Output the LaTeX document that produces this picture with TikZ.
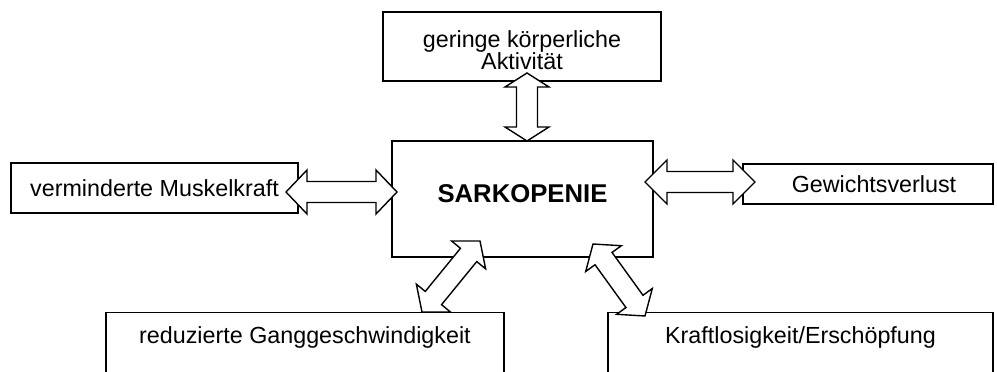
\documentclass[tikz,border=0pt]{standalone}
\usepackage{fontspec}
\setmainfont{Liberation Sans}
\usetikzlibrary{calc}

\tikzset{
  infobox/.style={draw, rectangle, line width=1.4pt, inner sep=0pt, align=center,
    font=\fontsize{23.3}{22}\selectfont},
  openbox/.style={infobox, anchor=north, inner ysep=14pt, text height=17pt, text depth=40pt},
  arrowbody/.style={draw, fill=white, line width=1.4pt, line join=miter},
}

% hollow double arrow from #2 to #3, #1 = head length
\newcommand{\headhalf}{22pt}
\newcommand{\shafthalf}{10.5pt}
\newcommand{\hollowarrow}[3][18pt]{%
  \coordinate (ha1) at ($(#2)!#1!(#3)$);
  \coordinate (ha2) at ($(#3)!#1!(#2)$);
  \draw[arrowbody] (#2) -- ($(ha1)!\headhalf!90:(#3)$) -- ($(ha1)!\shafthalf!90:(#3)$)
    -- ($(ha2)!\shafthalf!-90:(#2)$) -- ($(ha2)!\headhalf!-90:(#2)$) -- (#3)
    -- ($(ha2)!\headhalf!90:(#2)$) -- ($(ha2)!\shafthalf!90:(#2)$)
    -- ($(ha1)!\shafthalf!-90:(#3)$) -- ($(ha1)!\headhalf!-90:(#3)$) -- cycle;
}

\begin{document}
\begin{tikzpicture}[x=1pt, y=-1pt]
  \useasboundingbox (0,0) rectangle (997,372);

  % boxes
  \node[infobox, minimum width=261pt, minimum height=116pt, text depth=10pt,
    font=\fontsize{25.7}{28}\selectfont\bfseries] (sarko) at (522.5,199) {SARKOPENIE};
  \node[infobox, minimum width=278pt, minimum height=69pt] (aktiv) at (522,46.5)
    {\rule{0pt}{25pt}geringe körperliche\\Aktivität};
  \node[infobox, minimum width=287pt, minimum height=50pt] (kraft) at (154.5,188)
    {verminderte Muskelkraft};
  \node[infobox, minimum width=250pt, minimum height=40pt] (gewicht) at (868,184)
    {\hspace{12pt}Gewichtsverlust};
  \node[openbox, minimum width=398pt] (gang) at (305,312) {reduzierte Ganggeschwindigkeit};
  \node[openbox, minimum width=385pt] (erschoepf) at (800.5,312) {Kraftlosigkeit/Erschöpfung};

  % arrow ends
  \coordinate (aktiv-s) at (527,73);
  \coordinate (sarko-n) at (527,141);
  \coordinate (kraft-e) at (286,192);
  \coordinate (sarko-w) at (397,192);
  \coordinate (sarko-e) at (645,182);
  \coordinate (gewicht-w) at (755,182);
  \coordinate (gang-n) at (422,312);
  \coordinate (sarko-sw) at (480,241);
  \coordinate (sarko-se) at (593,244);
  \coordinate (erschoepf-n) at (645,316);

  % arrows
  \hollowarrow[14pt]{aktiv-s}{sarko-n}
  \hollowarrow[21pt]{kraft-e}{sarko-w}
  \hollowarrow[22pt]{sarko-e}{gewicht-w}
  \hollowarrow{gang-n}{sarko-sw}
  \hollowarrow{sarko-se}{erschoepf-n}
\end{tikzpicture}
\end{document}
